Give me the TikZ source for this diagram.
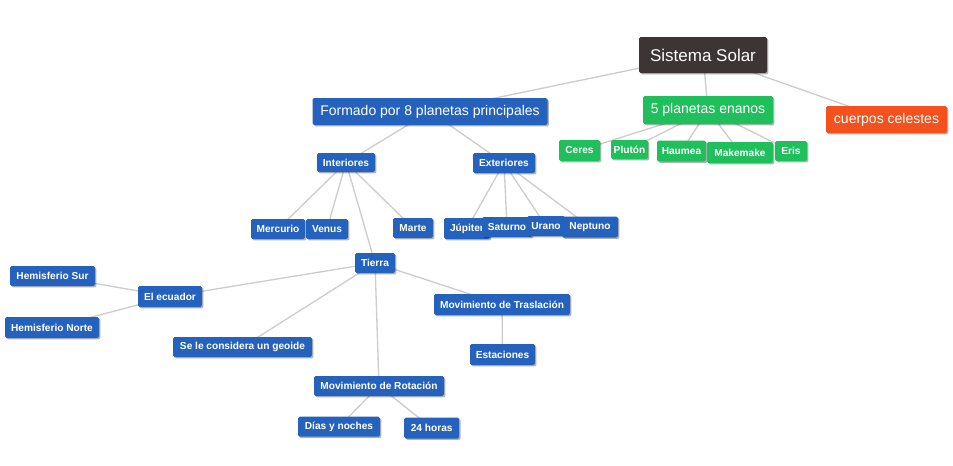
\documentclass[tikz,border=0pt]{standalone}
\usepackage{fontspec}
\setmainfont{Liberation Sans}
\usetikzlibrary{shadows}
\pgfdeclarelayer{background}
\pgfsetlayers{background,main}
\definecolor{cblue}{HTML}{2562BD}
\definecolor{cgreen}{HTML}{1FC05B}
\definecolor{corange}{HTML}{F4511E}
\definecolor{cdark}{HTML}{3D3535}
\definecolor{cline}{HTML}{CDCDCD}
\tikzset{
  box/.style={rectangle, rounded corners=1.2pt, inner sep=0pt, text=white, align=center,
    drop shadow={shadow xshift=1.1pt, shadow yshift=-1.1pt, opacity=0.3, fill=black}},
  small/.style={box, font=\bfseries\fontsize{7.6}{9}\selectfont},
  big/.style={box, font=\fontsize{10.5}{12}\selectfont},
  bluebox/.style={small, fill=cblue},
  greenbox/.style={small, fill=cgreen},
  conn/.style={draw=cline, line width=1pt},
}
\newcommand{\bx}[6]{\node[#1, minimum width=#4*0.75pt, minimum height=#5*0.75pt] (#2) at (#3) {#6};}
\begin{document}
\begin{tikzpicture}[x=0.75pt, y=-0.75pt]
\path[use as bounding box] (0,0) rectangle (953,465);
% top level
\bx{big, fill=cdark, font=\fontsize{12.75}{14}\selectfont}{sol}{703,55}{128}{36}{Sistema Solar}
\bx{big, fill=cblue}{form}{430,111.5}{235}{27}{Formado por 8 planetas principales}
\bx{big, fill=cgreen}{enan}{708,110}{130}{28}{5 planetas enanos}
\bx{big, fill=corange}{cuer}{886.5,119.5}{121}{27}{cuerpos celestes}
% dwarf planets
\bx{greenbox}{ceres}{579.5,150.5}{41}{21}{Ceres}
\bx{greenbox}{pluton}{629.5,149.5}{37}{19}{Plutón}
\bx{greenbox}{haumea}{681.5,151}{49}{21}{Haumea}
\bx{greenbox}{make}{740,152.5}{66}{21}{Makemake}
\bx{greenbox}{eris}{791,151}{32}{20}{Eris}
% planets
\bx{bluebox}{inter}{346,162.5}{58}{19}{Interiores}
\bx{bluebox}{exter}{504,163}{62}{20}{Exteriores}
\bx{bluebox}{merc}{278,229}{54}{20}{Mercurio}
\bx{bluebox}{venus}{327,229}{42}{20}{Venus}
\bx{bluebox}{marte}{413,228}{40}{20}{Marte}
\bx{bluebox}{jup}{467,228.5}{46}{21}{Júpiter}
\bx{bluebox}{sat}{507,227}{50}{20}{Saturno}
\bx{bluebox}{urano}{546,226}{38}{20}{Urano}
\bx{bluebox}{nept}{590,227}{56}{21}{Neptuno}
% Earth
\bx{bluebox}{tierra}{375,263}{40}{20}{Tierra}
\bx{bluebox}{hsur}{52.5,276}{85}{20}{Hemisferio Sur}
\bx{bluebox}{ecua}{170,296.5}{64}{21}{El ecuador}
\bx{bluebox}{hnorte}{52,327.5}{94}{21}{Hemisferio Norte}
\bx{bluebox}{geo}{242.5,347}{139}{20}{Se le considera un geoide}
\bx{bluebox}{tras}{502,304.5}{136}{21}{Movimiento de Traslación}
\bx{bluebox}{estac}{502.5,354.5}{65}{21}{Estaciones}
\bx{bluebox}{rot}{379,386}{130}{20}{Movimiento de Rotación}
\bx{bluebox}{dias}{339,426.7}{82}{20}{Días y noches}
\bx{bluebox}{horas}{431.7,428}{55}{21}{24 horas}
\begin{pgfonlayer}{background}
\foreach \a/\b in {sol/form, sol/enan, sol/cuer,
  enan/ceres, enan/pluton, enan/haumea, enan/make, enan/eris,
  form/inter, form/exter,
  inter/merc, inter/venus, inter/marte, inter/tierra,
  exter/jup, exter/sat, exter/urano, exter/nept,
  tierra/ecua, tierra/geo, tierra/rot, tierra/tras,
  ecua/hsur, ecua/hnorte, tras/estac, rot/dias, rot/horas}
  \draw[conn] (\a.center) -- (\b.center);
\end{pgfonlayer}
\end{tikzpicture}
\end{document}
